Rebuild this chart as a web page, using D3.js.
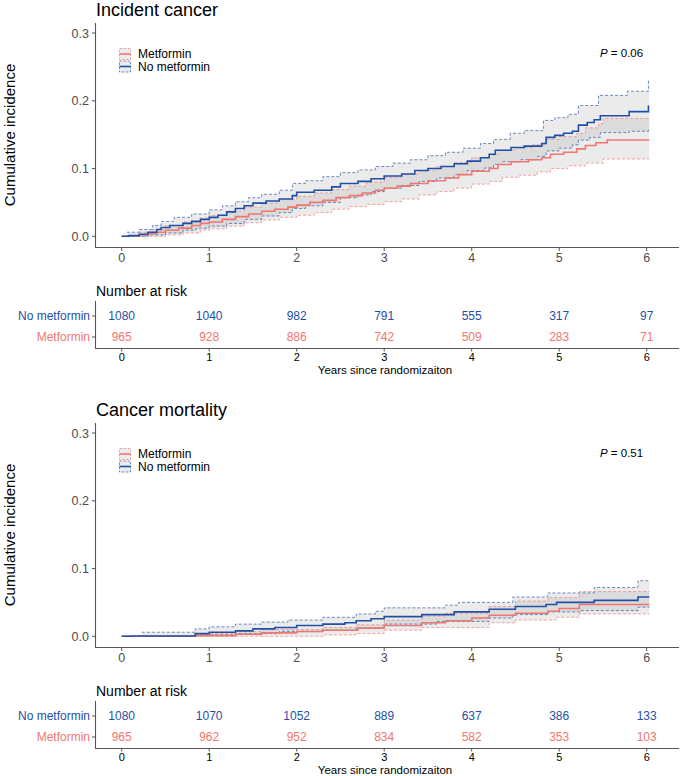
<!DOCTYPE html>
<html><head><meta charset="utf-8">
<script src="https://cdn.jsdelivr.net/npm/d3@7"></script>
<style>
body{margin:0;background:#fff;}
text{font-family:"Liberation Sans",Arial,Helvetica,sans-serif;}
</style></head>
<body>
<svg id="chart" width="680" height="776"></svg>
<script>
// ---------------- data ----------------
const years = [0, 1, 2, 3, 4, 5, 6];
const yTicks = [0, 0.1, 0.2, 0.3];
const groups = ["Metformin", "No metformin"];
const endTime = 6.03;

// Incident cancer: [time, cumulative incidence]
const incMetEst = [[0,0],[0.2,0.002],[0.3,0.004],[0.4,0.006],[0.5,0.009],[0.65,0.012],[0.8,0.016],[0.9,0.019],[1.0,0.021],[1.15,0.025],[1.3,0.029],[1.45,0.033],[1.6,0.037],[1.75,0.040],[1.9,0.043],[2.0,0.046],[2.15,0.050],[2.3,0.053],[2.45,0.057],[2.6,0.060],[2.75,0.064],[2.9,0.068],[3.0,0.071],[3.15,0.074],[3.3,0.078],[3.5,0.082],[3.7,0.086],[3.85,0.091],[4.0,0.096],[4.2,0.100],[4.3,0.106],[4.45,0.110],[4.65,0.113],[4.8,0.116],[4.9,0.121],[5.05,0.124],[5.2,0.129],[5.3,0.134],[5.42,0.138],[5.55,0.142]];
const incMetUp = [[0.2,0.006],[0.35,0.010],[0.5,0.016],[0.7,0.021],[0.9,0.027],[1.0,0.031],[1.2,0.037],[1.4,0.043],[1.6,0.049],[1.8,0.054],[2.0,0.059],[2.2,0.064],[2.4,0.069],[2.6,0.074],[2.8,0.080],[3.0,0.087],[3.2,0.092],[3.4,0.097],[3.6,0.103],[3.8,0.109],[4.0,0.116],[4.2,0.120],[4.3,0.127],[4.5,0.131],[4.7,0.135],[4.85,0.143],[5.0,0.147],[5.2,0.152],[5.3,0.160],[5.45,0.166],[5.5,0.174]];
const incMetLo = [[0.2,0.000],[0.5,0.002],[0.7,0.005],[0.9,0.009],[1.0,0.011],[1.2,0.015],[1.4,0.020],[1.6,0.024],[1.8,0.028],[2.0,0.031],[2.2,0.035],[2.4,0.040],[2.6,0.044],[2.8,0.047],[3.0,0.051],[3.2,0.055],[3.4,0.061],[3.6,0.066],[3.8,0.071],[4.0,0.077],[4.2,0.081],[4.35,0.087],[4.55,0.090],[4.75,0.095],[4.9,0.100],[5.1,0.104],[5.3,0.108],[5.5,0.114]];
const incNoMetEst = [[0,0],[0.08,0.001],[0.2,0.003],[0.3,0.006],[0.4,0.010],[0.45,0.013],[0.55,0.016],[0.7,0.019],[0.8,0.022],[0.9,0.025],[1.0,0.028],[1.1,0.031],[1.2,0.036],[1.3,0.041],[1.4,0.045],[1.5,0.049],[1.65,0.052],[1.8,0.055],[1.95,0.060],[2.0,0.065],[2.2,0.068],[2.4,0.073],[2.5,0.078],[2.7,0.081],[2.85,0.085],[3.0,0.089],[3.2,0.092],[3.35,0.097],[3.5,0.100],[3.65,0.103],[3.8,0.107],[3.95,0.111],[4.1,0.116],[4.2,0.121],[4.27,0.127],[4.45,0.131],[4.6,0.133],[4.8,0.137],[4.85,0.146],[4.95,0.149],[5.05,0.152],[5.15,0.155],[5.22,0.164],[5.32,0.168],[5.4,0.172],[5.47,0.178],[5.8,0.184],[6.02,0.192]];
const incNoMetUp = [[0.06,0.006],[0.2,0.010],[0.35,0.016],[0.45,0.022],[0.6,0.028],[0.8,0.033],[1.0,0.039],[1.15,0.045],[1.3,0.051],[1.45,0.057],[1.6,0.062],[1.8,0.068],[1.95,0.078],[2.1,0.082],[2.3,0.088],[2.5,0.094],[2.7,0.098],[2.9,0.103],[3.1,0.108],[3.3,0.113],[3.5,0.119],[3.7,0.124],[3.9,0.130],[4.1,0.137],[4.25,0.143],[4.44,0.152],[4.6,0.156],[4.82,0.171],[4.95,0.175],[5.1,0.180],[5.22,0.193],[5.45,0.208],[5.78,0.214],[6.02,0.230]];
const incNoMetLo = [[0.06,0.000],[0.3,0.002],[0.5,0.005],[0.7,0.009],[0.85,0.012],[1.0,0.015],[1.2,0.019],[1.4,0.025],[1.6,0.030],[1.8,0.035],[1.95,0.041],[2.1,0.045],[2.3,0.050],[2.5,0.057],[2.7,0.061],[2.85,0.066],[3.0,0.071],[3.2,0.075],[3.4,0.081],[3.6,0.086],[3.8,0.091],[3.95,0.097],[4.15,0.101],[4.25,0.106],[4.35,0.110],[4.55,0.113],[4.75,0.118],[4.85,0.126],[5.0,0.130],[5.15,0.135],[5.22,0.142],[5.35,0.146],[5.47,0.153],[5.8,0.155],[6.02,0.157]];

// Cancer mortality
const mortMetEst = [[0,0],[0.84,0.001],[1.3,0.003],[1.6,0.005],[2.0,0.007],[2.3,0.009],[2.7,0.012],[3.0,0.016],[3.43,0.020],[3.7,0.023],[4.0,0.027],[4.2,0.031],[4.5,0.034],[4.87,0.037],[5.0,0.041],[5.23,0.047]];
const mortMetUp = [[0.84,0.004],[1.3,0.007],[1.6,0.010],[2.3,0.013],[2.68,0.017],[3.0,0.024],[3.43,0.030],[3.7,0.034],[4.2,0.044],[4.5,0.052],[4.87,0.057],[5.23,0.066]];
const mortMetLo = [[0.84,0.000],[2.3,0.002],[2.68,0.004],[3.0,0.009],[3.43,0.013],[4.2,0.020],[4.5,0.024],[4.97,0.028],[5.23,0.033]];
const mortNoMetEst = [[0,0],[0.1,0.0005],[0.84,0.004],[1.0,0.006],[1.3,0.008],[1.5,0.011],[1.75,0.013],[2.0,0.016],[2.3,0.018],[2.55,0.020],[2.68,0.023],[2.85,0.026],[3.0,0.029],[3.43,0.032],[3.8,0.036],[4.2,0.040],[4.5,0.044],[4.85,0.047],[4.97,0.050],[5.4,0.053],[5.9,0.058]];
const mortNoMetUp = [[0.23,0.006],[0.84,0.011],[1.0,0.014],[1.3,0.018],[1.6,0.021],[1.9,0.024],[2.3,0.028],[2.68,0.033],[2.9,0.037],[3.0,0.042],[3.7,0.046],[3.85,0.050],[4.47,0.058],[4.87,0.064],[5.4,0.072],[5.9,0.082]];
const mortNoMetLo = [[0.84,0.002],[1.3,0.004],[1.8,0.007],[2.3,0.009],[2.68,0.012],[3.0,0.018],[3.6,0.022],[4.2,0.027],[4.47,0.032],[4.87,0.036],[5.25,0.038],[5.9,0.043]];

// Number at risk
const incRiskNoMet = [1080, 1040, 982, 791, 555, 317, 97];
const incRiskMet = [965, 928, 886, 742, 509, 283, 71];
const mortRiskNoMet = [1080, 1070, 1052, 889, 637, 386, 133];
const mortRiskMet = [965, 962, 952, 834, 582, 353, 103];

// ---------------- styles ----------------
const colMet = "#F0766E";
const colNoMet = "#1F4FA6";
const axisCol = "#555555";
const tickTextCol = "#4D4D4D";

const svg = d3.select("#chart");
const x = d3.scaleLinear().domain([0, 6]).range([121.7, 646.7]);

function stepVal(arr, t) {
  let v = 0;
  for (const d of arr) { if (d[0] <= t + 1e-9) v = d[1]; else break; }
  return v;
}
function withEnd(arr) { return arr.concat([[endTime, arr[arr.length - 1][1]]]); }

function drawPanel(oy, title, pLabel, series, riskNoMet, riskMet) {
  const g = svg.append("g").attr("transform", `translate(0,${oy})`);
  const y = d3.scaleLinear().domain([0, 0.3]).range([236.3, 33]);

  // title
  g.append("text").attr("x", 96).attr("y", 16).attr("font-size", 18).attr("fill", "#000").text(title);
  // y label
  g.append("text").attr("transform", "translate(15,135) rotate(-90)").attr("text-anchor", "middle")
    .attr("font-size", 15).attr("fill", "#000").text("Cumulative incidence");

  // bands
  const area = d3.area().curve(d3.curveStepAfter).x(d => x(d.t)).y0(d => y(d.lo)).y1(d => y(d.hi));
  series.forEach(s => {
    const ts = Array.from(new Set(s.up.map(d => d[0]).concat(s.lo.map(d => d[0])))).sort((a, b) => a - b);
    const pts = ts.map(t => ({t, lo: stepVal(s.lo, t), hi: stepVal(s.up, t)}));
    pts.push({t: endTime, lo: pts[pts.length - 1].lo, hi: pts[pts.length - 1].hi});
    g.append("path").attr("d", area(pts)).attr("fill", "#9a9a9a").attr("fill-opacity", 0.2);
  });

  const line = d3.line().curve(d3.curveStepAfter).x(d => x(d[0])).y(d => y(d[1]));
  // CI dashed lines
  series.forEach(s => {
    [s.up, s.lo].forEach(arr => {
      g.append("path").attr("d", line(withEnd(arr))).attr("fill", "none")
        .attr("stroke", s.col).attr("stroke-opacity", 0.8).attr("stroke-width", 0.8)
        .attr("stroke-dasharray", "3,2");
    });
  });
  // estimates
  series.forEach(s => {
    g.append("path").attr("d", line(withEnd(s.est))).attr("fill", "none")
      .attr("stroke", s.col).attr("stroke-width", 1.6);
  });

  // axes
  const ax = g.append("g");
  ax.append("line").attr("x1", 95.5).attr("x2", 95.5).attr("y1", 23).attr("y2", 247.5).attr("stroke", axisCol).attr("stroke-width", 1.1);
  ax.append("line").attr("x1", 95).attr("x2", 679).attr("y1", 247.5).attr("y2", 247.5).attr("stroke", axisCol).attr("stroke-width", 1.1);
  yTicks.forEach(v => {
    ax.append("line").attr("x1", 92).attr("x2", 95.5).attr("y1", y(v)).attr("y2", y(v)).attr("stroke", axisCol);
    ax.append("text").attr("x", 89).attr("y", y(v) + 4.5).attr("text-anchor", "end").attr("font-size", 12.5)
      .attr("fill", tickTextCol).text(d3.format(".1f")(v));
  });
  years.forEach(t => {
    ax.append("line").attr("x1", x(t)).attr("x2", x(t)).attr("y1", 247.5).attr("y2", 251).attr("stroke", axisCol);
    ax.append("text").attr("x", x(t)).attr("y", 262).attr("text-anchor", "middle").attr("font-size", 12.5)
      .attr("fill", tickTextCol).text(t);
  });

  // legend
  const leg = g.append("g");
  const legItems = [{name: groups[0], col: colMet, cy: 54}, {name: groups[1], col: colNoMet, cy: 66.5}];
  legItems.forEach(it => {
    leg.append("rect").attr("x", 119.5).attr("y", it.cy - 5.5).attr("width", 11).attr("height", 11)
      .attr("fill", "#9a9a9a").attr("fill-opacity", 0.2).attr("stroke", it.col).attr("stroke-opacity", 0.8)
      .attr("stroke-width", 0.8).attr("stroke-dasharray", "2.5,1.5");
    leg.append("line").attr("x1", 119.5).attr("x2", 130.5).attr("y1", it.cy).attr("y2", it.cy)
      .attr("stroke", it.col).attr("stroke-width", 1.6);
    leg.append("text").attr("x", 138).attr("y", it.cy + 4.3).attr("font-size", 12).attr("fill", "#000").text(it.name);
  });

  // P value
  const pt = g.append("text").attr("x", 600).attr("y", 57).attr("font-size", 11.5).attr("fill", "#000");
  pt.append("tspan").attr("font-style", "italic").text("P");
  pt.append("tspan").text(" = " + pLabel);

  // risk table
  const rt = g.append("g");
  rt.append("text").attr("x", 96).attr("y", 295.5).attr("font-size", 14).attr("fill", "#000").text("Number at risk");
  rt.append("line").attr("x1", 95.5).attr("x2", 95.5).attr("y1", 301).attr("y2", 348.5).attr("stroke", axisCol).attr("stroke-width", 1.1);
  rt.append("line").attr("x1", 95).attr("x2", 679).attr("y1", 348.5).attr("y2", 348.5).attr("stroke", axisCol).attr("stroke-width", 1.1);
  const rows = [{name: groups[1], col: colNoMet, vals: riskNoMet, cy: 316}, {name: groups[0], col: colMet, vals: riskMet, cy: 337}];
  rows.forEach(r => {
    rt.append("line").attr("x1", 92).attr("x2", 95.5).attr("y1", r.cy).attr("y2", r.cy).attr("stroke", axisCol);
    rt.append("text").attr("x", 90).attr("y", r.cy + 4.3).attr("text-anchor", "end").attr("font-size", 12)
      .attr("fill", r.col).text(r.name);
    r.vals.forEach((v, i) => {
      rt.append("text").attr("x", x(years[i])).attr("y", r.cy + 4.3).attr("text-anchor", "middle")
        .attr("font-size", 12).attr("fill", r.col).text(v);
    });
  });
  years.forEach(t => {
    rt.append("line").attr("x1", x(t)).attr("x2", x(t)).attr("y1", 348.5).attr("y2", 351.5).attr("stroke", axisCol);
    rt.append("text").attr("x", x(t)).attr("y", 361).attr("text-anchor", "middle").attr("font-size", 11)
      .attr("fill", "#000").text(t);
  });
  rt.append("text").attr("x", 385).attr("y", 373.5).attr("text-anchor", "middle").attr("font-size", 11.5)
    .attr("fill", "#000").text("Years since randomizaiton");
}

drawPanel(0, "Incident cancer", "0.06",
  [{est: incMetEst, up: incMetUp, lo: incMetLo, col: colMet},
   {est: incNoMetEst, up: incNoMetUp, lo: incNoMetLo, col: colNoMet}],
  incRiskNoMet, incRiskMet);
drawPanel(400, "Cancer mortality", "0.51",
  [{est: mortMetEst, up: mortMetUp, lo: mortMetLo, col: colMet},
   {est: mortNoMetEst, up: mortNoMetUp, lo: mortNoMetLo, col: colNoMet}],
  mortRiskNoMet, mortRiskMet);
</script>
</body></html>
